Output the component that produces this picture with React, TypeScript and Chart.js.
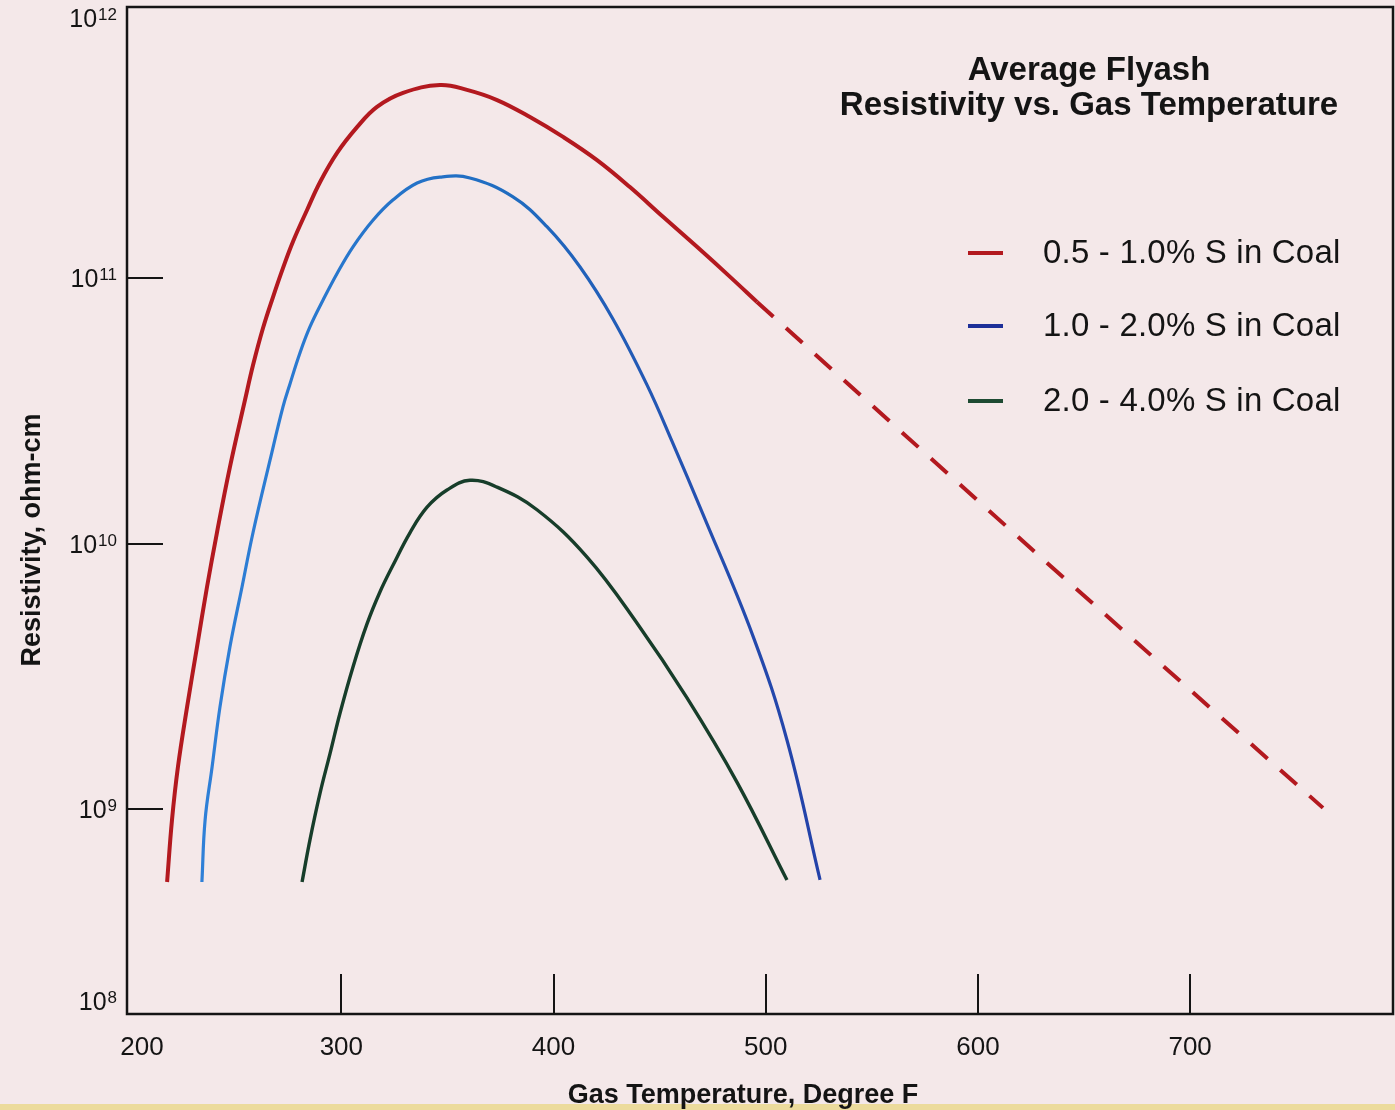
import React, { useEffect, useRef } from "react";
import { Chart, registerables } from "chart.js";

Chart.register(...registerables);

// ---------- data ----------
const seriesLabels = ["0.5 - 1.0% S in Coal", "1.0 - 2.0% S in Coal", "2.0 - 4.0% S in Coal"];

// 0.5 - 1.0 % S (solid part)
const lowSTemp = [217.9, 220.2, 223.0, 227.3, 232.0, 236.7, 241.4, 247.5, 254.6, 258.4, 263.1, 267.8, 272.5, 277.2, 283.8, 290.0, 298.0, 307.4, 316.8, 329.1, 346.5, 359.2, 373.4, 388.9, 404.5, 420.5, 436.0, 451.6, 467.6, 483.2, 495.9];
const lowSRes = [5.31e8, 9.09e8, 1.44e9, 2.42e9, 4.08e9, 6.86e9, 1.1e10, 1.94e10, 3.47e10, 4.7e10, 6.48e10, 8.48e10, 1.09e11, 1.37e11, 1.8e11, 2.3e11, 2.96e11, 3.7e11, 4.41e11, 4.98e11, 5.33e11, 5.11e11, 4.68e11, 4.04e11, 3.4e11, 2.78e11, 2.2e11, 1.7e11, 1.31e11, 1.01e11, 8.12e10];
// 0.5 - 1.0 % S (dashed extrapolation)
const lowSExtTemp = [495.9, 632.6, 762.6];
const lowSExtRes = [8.12e10, 8.45e9, 1.01e9];

// 1.0 - 2.0 % S
const midSTemp = [234.3, 235.8, 239.1, 242.8, 247.5, 253.2, 258.4, 266.4, 272.5, 275.8, 280.5, 285.2, 291.4, 298.0, 305.5, 314.9, 324.4, 335.7, 346.5, 360.6, 380.9, 396.9, 412.5, 428.0, 444.1, 455.8, 470.4, 494.0, 510.0, 525.6];
const midSRes = [5.31e8, 9.09e8, 1.44e9, 2.42e9, 4.08e9, 6.86e9, 1.1e10, 2.06e10, 3.27e10, 3.99e10, 5.22e10, 6.54e10, 8.26e10, 1.04e11, 1.31e11, 1.65e11, 1.97e11, 2.28e11, 2.4e11, 2.38e11, 2.02e11, 1.56e11, 1.1e11, 7.01e10, 3.95e10, 2.43e10, 1.29e10, 4.48e9, 1.82e9, 5.41e8];

// 2.0 - 4.0 % S
const highSTemp = [281.5, 285.2, 290.0, 294.7, 299.4, 305.5, 312.1, 318.2, 324.4, 332.4, 340.4, 349.8, 360.6, 373.4, 392.2, 415.8, 439.3, 462.9, 486.5, 510.0];
const highSRes = [5.31e8, 7.64e8, 1.15e9, 1.62e9, 2.3e9, 3.43e9, 4.98e9, 6.57e9, 8.3e9, 1.1e10, 1.37e10, 1.59e10, 1.73e10, 1.63e10, 1.34e10, 8.89e9, 5.02e9, 2.62e9, 1.26e9, 5.4e8];

const xTickLabels = [200, 300, 400, 500, 600, 700];
const xTickMarks = [300, 400, 500, 600, 700];
const yTickExponents = [12, 11, 10, 9, 8];
const yTickMarks = [1e11, 1e10, 1e9];

const xMin = 199;
const xMax = 795.6;
const yMin = Math.pow(10, 8.228);
const yMax = Math.pow(10, 12.0207);

// ---------- styling ----------
const FONT = '"Liberation Sans", Arial, Helvetica, sans-serif';
const BG = "#f4e8e9";
const INK = "#141414";
const RED = "#b3191f";
const GREEN = "#173d2a";
const legendColors = ["#b3191f", "#1d2f98", "#1d4a32"];

const toPts = (xs: number[], ys: number[]) => xs.map((x, i) => ({ x, y: ys[i] }));

const overlayPlugin = {
  id: "flyashOverlay",
  beforeDraw(chart: any) {
    const { ctx, width, height } = chart;
    ctx.save();
    ctx.fillStyle = BG;
    ctx.fillRect(0, 0, width, height);
    ctx.fillStyle = "#ecdb9c";
    ctx.fillRect(0, height - 6, width, 6);
    ctx.restore();
  },
  afterDatasetsDraw(chart: any) {
    const { ctx, chartArea: a, scales } = chart;
    const xs = scales.x;
    const ys = scales.y;
    ctx.save();

    // frame
    ctx.strokeStyle = INK;
    ctx.lineWidth = 2.5;
    ctx.beginPath();
    ctx.moveTo(a.left, a.top);
    ctx.lineTo(a.right, a.top);
    ctx.lineTo(a.right, a.bottom);
    ctx.lineTo(a.left, a.bottom);
    ctx.closePath();
    ctx.stroke();

    // inner ticks
    ctx.lineWidth = 2;
    xTickMarks.forEach((v) => {
      const px = Math.round(xs.getPixelForValue(v));
      ctx.beginPath();
      ctx.moveTo(px, a.bottom);
      ctx.lineTo(px, a.bottom - 40);
      ctx.stroke();
    });
    yTickMarks.forEach((v) => {
      const py = Math.round(ys.getPixelForValue(v));
      ctx.beginPath();
      ctx.moveTo(a.left, py);
      ctx.lineTo(a.left + 36, py);
      ctx.stroke();
    });

    // x tick labels
    ctx.fillStyle = INK;
    ctx.font = `26px ${FONT}`;
    ctx.textAlign = "center";
    ctx.textBaseline = "alphabetic";
    xTickLabels.forEach((v) => {
      const px = Math.max(xs.getPixelForValue(v), a.left + 15);
      ctx.fillText(String(v), px, a.bottom + 41);
    });

    // y tick labels (10^n)
    yTickExponents.forEach((e) => {
      let py = ys.getPixelForValue(Math.pow(10, e));
      if (py > a.bottom - 13) py = a.bottom - 13;
      if (py < a.top + 11) py = a.top + 11;
      const right = a.left - 10;
      ctx.font = `17px ${FONT}`;
      const ew = ctx.measureText(String(e)).width;
      ctx.font = `25px ${FONT}`;
      const bw = ctx.measureText("10").width;
      ctx.textAlign = "left";
      ctx.fillText("10", right - ew - bw - 1, py + 9);
      ctx.font = `17px ${FONT}`;
      ctx.fillText(String(e), right - ew, py + 2);
    });

    // axis titles
    ctx.font = `bold 27px ${FONT}`;
    ctx.textAlign = "center";
    ctx.textBaseline = "middle";
    ctx.fillText("Gas Temperature, Degree F", 743, a.bottom + 82);
    ctx.save();
    ctx.translate(33, 540);
    ctx.rotate(-Math.PI / 2);
    ctx.fillText("Resistivity, ohm-cm", 0, 0);
    ctx.restore();

    // chart title
    ctx.font = `bold 33px ${FONT}`;
    ctx.textBaseline = "alphabetic";
    ctx.fillText("Average Flyash", 1089, 80);
    ctx.fillText("Resistivity vs. Gas Temperature", 1089, 115);

    // legend
    const legendY = [253, 326, 401];
    seriesLabels.forEach((lab, i) => {
      ctx.strokeStyle = legendColors[i];
      ctx.lineWidth = 4;
      ctx.beginPath();
      ctx.moveTo(968, legendY[i]);
      ctx.lineTo(1003, legendY[i]);
      ctx.stroke();
      ctx.fillStyle = INK;
      ctx.font = `33px ${FONT}`;
      (ctx as any).letterSpacing = "0.2px";
      ctx.textAlign = "left";
      ctx.textBaseline = "middle";
      ctx.fillText(lab, 1043, legendY[i] + 1);
      (ctx as any).letterSpacing = "0px";
    });

    ctx.restore();
  },
};

export default function App() {
  const canvasRef = useRef<HTMLCanvasElement | null>(null);

  useEffect(() => {
    document.body.style.margin = "0";
    document.body.style.background = BG;
    const canvas = canvasRef.current;
    if (!canvas) return;

    const blueGradient = (c: any) => {
      const chart = c.chart;
      if (!chart.chartArea) return "#2a6cc8";
      const xs = chart.scales.x;
      const g = chart.ctx.createLinearGradient(xs.getPixelForValue(230), 0, xs.getPixelForValue(530), 0);
      g.addColorStop(0, "#2f80d8");
      g.addColorStop(0.5, "#1f6cc0");
      g.addColorStop(0.8, "#2450b0");
      g.addColorStop(1, "#2340a8");
      return g;
    };

    const curve = { pointRadius: 0, tension: 0.4, fill: false };

    const chart = new Chart(canvas, {
      type: "line",
      data: {
        datasets: [
          {
            ...curve,
            label: seriesLabels[0],
            data: toPts(lowSTemp, lowSRes),
            borderColor: RED,
            borderWidth: 4,
          },
          {
            label: seriesLabels[0] + " (extrapolated)",
            data: toPts(lowSExtTemp, lowSExtRes),
            borderColor: RED,
            borderWidth: 4,
            borderDash: [22, 17],
            pointRadius: 0,
            tension: 0,
            fill: false,
          },
          {
            ...curve,
            label: seriesLabels[1],
            data: toPts(midSTemp, midSRes),
            borderColor: blueGradient,
            borderWidth: 3.2,
          },
          {
            ...curve,
            label: seriesLabels[2],
            data: toPts(highSTemp, highSRes),
            borderColor: GREEN,
            borderWidth: 3.4,
          },
        ],
      },
      options: {
        responsive: false,
        animation: false,
        devicePixelRatio: 1,
        layout: { padding: { left: 127, top: 7, right: 2, bottom: 96 } },
        plugins: {
          legend: { display: false },
          tooltip: { enabled: false },
          title: { display: false },
        },
        scales: {
          x: { type: "linear", min: xMin, max: xMax, display: false },
          y: { type: "logarithmic", min: yMin, max: yMax, display: false },
        },
        elements: { line: { borderCapStyle: "butt", borderJoinStyle: "round" } },
      },
      plugins: [overlayPlugin],
    } as any);

    return () => chart.destroy();
  }, []);

  return (
    <div style={{ position: "absolute", left: 0, top: 0, width: 1395, height: 1110, background: BG }}>
      <canvas ref={canvasRef} width={1395} height={1110} style={{ display: "block" }} />
    </div>
  );
}
